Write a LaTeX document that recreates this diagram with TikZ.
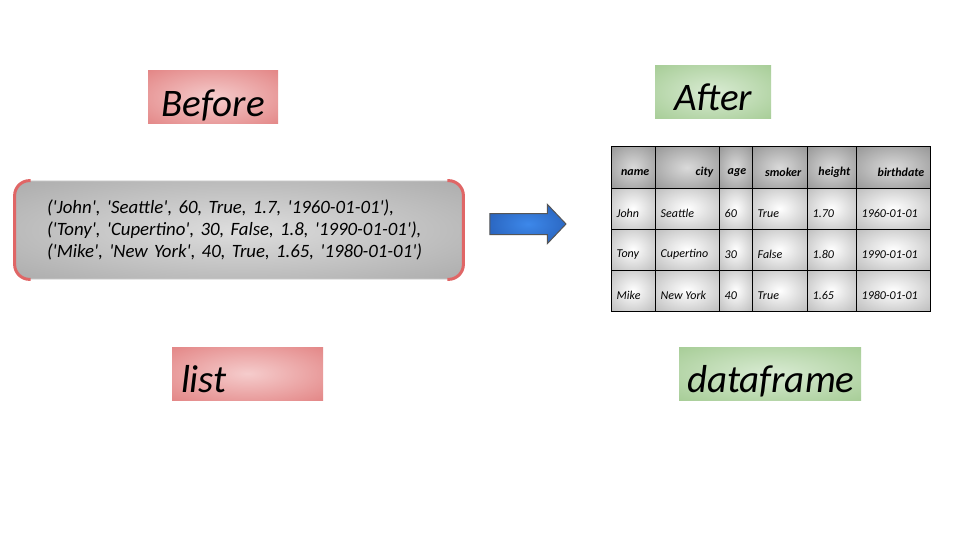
\documentclass[tikz,border=0pt]{standalone}
\usepackage{fontspec}
\setmainfont{Carlito}
\usetikzlibrary{shapes.arrows}
\definecolor{redout}{HTML}{DC6B6B}
\definecolor{redin}{HTML}{F5CCCC}
\definecolor{grnout}{HTML}{93C17F}
\definecolor{grnin}{HTML}{D9EBD3}
\definecolor{grayout}{HTML}{999999}
\definecolor{grayin}{HTML}{DDDDDD}
\definecolor{cellout}{HTML}{A2A2A2}
\definecolor{cellin}{HTML}{FFFFFF}
\definecolor{hdout}{HTML}{7C7C7C}
\definecolor{hdin}{HTML}{DADADA}
\definecolor{bluein}{HTML}{3D88EA}
\definecolor{blueout}{HTML}{1A489C}
\definecolor{sidered}{HTML}{E06666}
\definecolor{edgegray}{HTML}{CCCCCC}
\definecolor{arrowedge}{HTML}{555555}
\pgfdeclareradialshading{redrad}{\pgfpoint{0bp}{0bp}}{color(0bp)=(redin); color(50bp)=(redout); color(72bp)=(redout)}
\pgfdeclareradialshading{grnrad}{\pgfpoint{0bp}{0bp}}{color(0bp)=(grnin); color(50bp)=(grnout); color(72bp)=(grnout)}
\pgfdeclareradialshading{grayrad}{\pgfpoint{0bp}{0bp}}{color(0bp)=(grayin); color(50bp)=(grayout); color(72bp)=(grayout)}
\pgfdeclareradialshading{cellrad}{\pgfpoint{0bp}{0bp}}{color(0bp)=(cellin); color(50bp)=(cellout); color(72bp)=(cellout)}
\pgfdeclareradialshading{hdrad}{\pgfpoint{0bp}{0bp}}{color(0bp)=(hdin); color(50bp)=(hdout); color(72bp)=(hdout)}
\pgfdeclareradialshading{bluerad}{\pgfpoint{0bp}{0bp}}{color(0bp)=(bluein); color(50bp)=(blueout); color(72bp)=(blueout)}
\newcommand{\sq}{\textquotesingle}
\tikzset{
  lbl/.style={inner sep=0pt, minimum height=53pt, text height=38pt, text depth=0pt,
              font=\fontsize{39}{40}\selectfont\itshape},
  cellbox/.style={draw=black, line width=1pt, minimum height=41pt, inner sep=0pt, shading=cellrad},
  hdbox/.style={draw=black, line width=1pt, minimum height=41pt, inner sep=0pt, shading=hdrad},
  celltxt/.style={anchor=west, inner sep=0pt, font=\fontsize{12}{13}\selectfont\itshape},
  hdtxt/.style={anchor=east, inner sep=0pt, font=\fontsize{12}{13}\selectfont\itshape\bfseries},
}
\begin{document}
\begin{tikzpicture}[x=1pt,y=-1pt]
\useasboundingbox[fill=white] (0,0) rectangle (960,540);
% labels
\node[lbl, shading=redrad, minimum width=130pt] (before) at (213,97.5) {Before};
\node[lbl, shading=grnrad, minimum width=116pt] (after) at (713,92) {After};
\node[lbl, shading=redrad, minimum width=151pt, text width=133pt, align=left] (list) at (247.5,373.5) {list};
\node[lbl, shading=grnrad, minimum width=182pt, text width=166pt, align=left] (df) at (770,373.5) {dataframe};
% list box
\node[draw=edgegray, line width=0.8pt, rounded corners=15pt, shading=grayrad,
      minimum width=448pt, minimum height=98pt, inner xsep=32pt, inner ysep=0pt,
      text width=384pt, align=left, font=\fontsize{18.8}{22}\selectfont\itshape] (lst) at (239,230)
  {(\sq John\sq, \sq Seattle\sq, 60, True, 1.7, \sq 1960-01-01\sq),\\
   (\sq Tony\sq, \sq Cupertino\sq, 30, False, 1.8, \sq 1990-01-01\sq),\\
   (\sq Mike\sq, \sq New York\sq, 40, True, 1.65, \sq 1980-01-01\sq)};
\draw[sidered, line width=3pt, rounded corners=15pt]
  ([xshift=16pt]lst.north west) -- (lst.north west) -- (lst.south west) -- ([xshift=16pt]lst.south west);
\draw[sidered, line width=3pt, rounded corners=15pt]
  ([xshift=-16pt]lst.north east) -- (lst.north east) -- (lst.south east) -- ([xshift=-16pt]lst.south east);
% arrow
\node[single arrow, draw=arrowedge, line width=1pt, shading=bluerad, inner xsep=0pt, inner ysep=10pt,
      minimum height=76pt, single arrow head extend=9pt,
      single arrow tip angle=93] (arr) at (523,224) {};
% table
\foreach \col/\cx/\cw/\t in {1/633/44/name, 2/687/64/city, 3/735.5/33/age, 4/779.5/55/smoker, 5/831.5/49/height, 6/893/74/birthdate}{
  \node[hdbox, minimum width=\cw pt] (c-0-\col) at (\cx,167.5) {};
  \node[hdtxt] (h-\col) at ([xshift=-6pt,yshift=-5pt]c-0-\col.east) {\t};
}
\foreach \r/\y/\a/\b/\c/\d/\e/\f in {1/208.5/John/Seattle/60/True/1.70/1960-01-01,
                                     2/249.5/Tony/Cupertino/30/False/1.80/1990-01-01,
                                     3/290.5/Mike/New York/40/True/1.65/1980-01-01}{
  \foreach \col/\cx/\cw/\t in {1/633/44/\a, 2/687/64/\b, 3/735.5/33/\c, 4/779.5/55/\d, 5/831.5/49/\e, 6/893/74/\f}{
    \node[cellbox, minimum width=\cw pt] (c-\r-\col) at (\cx,\y) {};
    \node[celltxt] (t-\r-\col) at ([xshift=6pt,yshift=-5pt]c-\r-\col.west) {\t};
  }
}
\end{tikzpicture}
\end{document}
